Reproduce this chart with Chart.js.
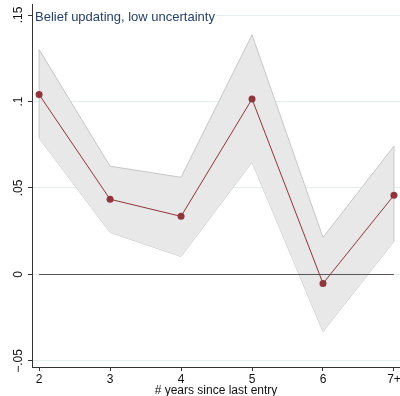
<!DOCTYPE html>
<html>
<head>
<meta charset="utf-8">
<script src="https://cdn.jsdelivr.net/npm/chart.js@4.4.0/dist/chart.umd.min.js"></script>
<style>
  html, body { margin: 0; padding: 0; background: #fff; }
</style>
</head>
<body>
<canvas id="chart" width="400" height="396"></canvas>
<script>
// values
const categories = ['2', '3', '4', '5', '6', '7+'];
const xPositions = [2, 3, 4, 5, 6, 7];
const estimate = [0.104, 0.0435, 0.0336, 0.1014, -0.0052, 0.0458];
const upper = [0.130, 0.0626, 0.0562, 0.1385, 0.0214, 0.0742];
const lower = [0.0788, 0.0243, 0.0104, 0.0649, -0.033, 0.0191];
const yTicks = [-0.05, 0, 0.05, 0.1, 0.15];
const yTickLabels = ['\u2212.05', '0', '.05', '.1', '.15'];
const title = 'Belief updating, low uncertainty';
const xTitle = '# years since last entry';

const font = '"Liberation Sans", Arial, sans-serif';
const bandLine = '#c6c6c6';

const pts = (ys) => xPositions.map((x, i) => ({ x: x, y: ys[i] }));
const last = xPositions.length - 1;

// title sits inside the plot region, over a white box
const innerTitle = {
	id: 'innerTitle',
	afterDraw(chart) {
		const { ctx, chartArea } = chart;
		ctx.save();
		ctx.font = '13px ' + font;
		const w = ctx.measureText(title).width;
		ctx.fillStyle = '#fff';
		ctx.fillRect(chartArea.left + 1, 9, w + 3, 15);
		ctx.fillStyle = '#24406e';
		ctx.textBaseline = 'alphabetic';
		ctx.fillText(title, chartArea.left + 3, 20.5);
		ctx.restore();
	},
};

const ctx = document.getElementById('chart').getContext('2d');
const chart = new Chart(ctx, {
	type: 'line',
	data: {
		datasets: [
			{
				data: pts(estimate),
				borderColor: '#90353b',
				backgroundColor: '#90353b',
				borderWidth: 1,
				pointRadius: 3.5,
				pointBorderWidth: 0,
				fill: false,
				order: 0,
			},
			{
				data: pts(estimate.map(() => 0)),
				borderColor: '#555',
				borderWidth: 1,
				pointRadius: 0,
				fill: false,
				order: 1,
			},
			{
				data: pts(upper),
				borderColor: bandLine,
				backgroundColor: '#e8e8e8',
				borderWidth: 1,
				pointRadius: 0,
				fill: '+1',
				order: 3,
			},
			{
				data: pts(lower),
				borderColor: bandLine,
				borderWidth: 1,
				pointRadius: 0,
				fill: false,
				order: 3,
			},
			{
				data: [{ x: xPositions[0], y: lower[0] }, { x: xPositions[0], y: upper[0] }],
				borderColor: bandLine,
				borderWidth: 1,
				pointRadius: 0,
				order: 2,
			},
			{
				data: [{ x: xPositions[last], y: lower[last] }, { x: xPositions[last], y: upper[last] }],
				borderColor: bandLine,
				borderWidth: 1,
				pointRadius: 0,
				order: 2,
			},
		],
	},
	options: {
		responsive: false,
		animation: false,
		layout: { autoPadding: false, padding: { top: 4, left: 0, right: 0, bottom: 0 } },
		plugins: {
			legend: { display: false },
			tooltip: { enabled: false },
		},
		scales: {
			x: {
				type: 'linear',
				min: 1.9,
				max: 7.085,
				afterBuildTicks: (s) => { s.ticks = xPositions.map((v) => ({ value: v })); },
				afterFit: (s) => { s.height = 29; s.paddingLeft = 0; s.paddingRight = 0; },
				ticks: {
					callback: (v) => categories[xPositions.indexOf(v)],
					color: '#111',
					font: { family: font, size: 12 },
					padding: 1,
					maxRotation: 0,
					autoSkip: false,
				},
				grid: { drawOnChartArea: false, tickLength: 4, tickColor: '#333' },
				border: { color: '#333', width: 1 },
				title: {
					display: true,
					text: xTitle,
					color: '#111',
					font: { family: font, size: 12 },
					padding: { top: 0, bottom: -2 },
				},
			},
			y: {
				min: -0.05347,
				max: 0.15636,
				afterBuildTicks: (s) => { s.ticks = yTicks.map((v) => ({ value: v })); },
				afterFit: (s) => { s.width = 32; s.paddingTop = 0; s.paddingBottom = 0; },
				ticks: {
					callback: (v) => yTickLabels[yTicks.indexOf(v)],
					minRotation: 90,
					maxRotation: 90,
					crossAlign: 'center',
					padding: -3,
					color: '#111',
					font: { family: font, size: 12 },
				},
				grid: { color: '#e3eeee', tickLength: 4, tickColor: '#333' },
				border: { color: '#333', width: 1 },
			},
		},
	},
	plugins: [innerTitle],
});
</script>
</body>
</html>
